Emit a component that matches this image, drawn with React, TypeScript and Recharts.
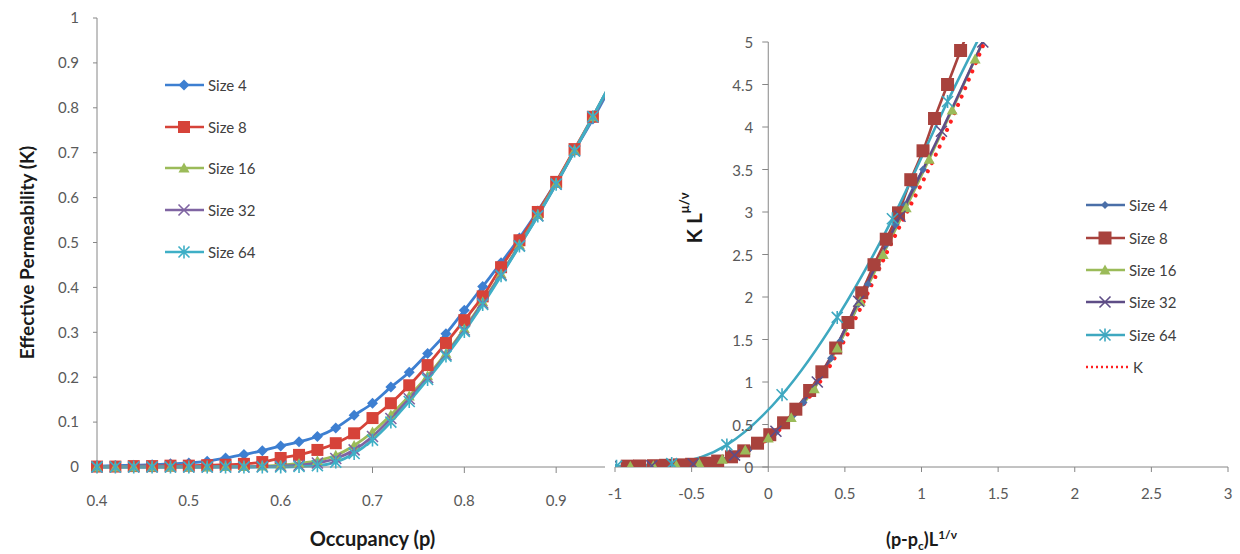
import React from "react";
import { LineChart, Line, XAxis, YAxis, Legend, ReferenceLine, ReferenceDot, Label } from "recharts";

// ---- left chart: effective permeability vs occupancy ----
const occupancy = [
  0.4, 0.42, 0.44, 0.46, 0.48, 0.5, 0.52, 0.54, 0.56, 0.58, 0.6, 0.62, 0.64, 0.66, 0.68,
  0.7, 0.72, 0.74, 0.76, 0.78, 0.8, 0.82, 0.84, 0.86, 0.88, 0.9, 0.92, 0.94, 0.96,
];
const permSize4 = [
  0.002, 0.003, 0.004, 0.005, 0.007, 0.009, 0.013, 0.02, 0.028, 0.036, 0.047, 0.056, 0.068, 0.087, 0.115,
  0.142, 0.178, 0.211, 0.253, 0.297, 0.349, 0.402, 0.455, 0.51, 0.57, 0.635, 0.705, 0.775, 0.85,
];
const permSize8 = [
  0.001, 0.001, 0.002, 0.002, 0.003, 0.003, 0.004, 0.005, 0.007, 0.011, 0.02, 0.027, 0.038, 0.053, 0.075,
  0.109, 0.142, 0.182, 0.227, 0.276, 0.327, 0.38, 0.445, 0.505, 0.568, 0.635, 0.708, 0.78, 0.855,
];
const permSize16 = [
  0, 0, 0, 0, 0, 0, 0, 0.001, 0.001, 0.002, 0.004, 0.008, 0.014, 0.026, 0.048,
  0.078, 0.116, 0.158, 0.203, 0.253, 0.308, 0.368, 0.43, 0.495, 0.562, 0.632, 0.705, 0.78, 0.856,
];
const permSize32 = [
  0, 0, 0, 0, 0, 0, 0, 0, 0, 0.001, 0.002, 0.004, 0.009, 0.019, 0.038,
  0.068, 0.108, 0.152, 0.199, 0.25, 0.305, 0.365, 0.428, 0.493, 0.56, 0.63, 0.704, 0.78, 0.856,
];
const permSize64 = [
  0, 0, 0, 0, 0, 0, 0, 0, 0, 0, 0, 0.001, 0.003, 0.011, 0.03,
  0.06, 0.1, 0.146, 0.195, 0.247, 0.302, 0.362, 0.426, 0.492, 0.559, 0.63, 0.704, 0.78, 0.857,
];
const occupancyTicks = [0.4, 0.5, 0.6, 0.7, 0.8, 0.9, 1];
const permTicks = [0, 0.1, 0.2, 0.3, 0.4, 0.5, 0.6, 0.7, 0.8, 0.9, 1];

// ---- right chart: scaling collapse ----
const scaledX4 = [
  -0.55, -0.49, -0.43, -0.37, -0.31, -0.25, -0.19, -0.13, -0.07, -0.01, 0.05, 0.11, 0.17, 0.23,
  0.29, 0.35, 0.41, 0.47, 0.53, 0.59, 0.65, 0.71, 0.77, 0.83, 0.89, 0.95, 1.01,
];
const scaledY4 = [
  0.03, 0.04, 0.05, 0.06, 0.08, 0.11, 0.15, 0.2, 0.26, 0.33, 0.41, 0.51, 0.62, 0.76,
  0.92, 1.09, 1.28, 1.48, 1.69, 1.92, 2.15, 2.38, 2.62, 2.85, 3.08, 3.3, 3.5,
];
const scaledX8 = [
  -0.92, -0.84, -0.75, -0.67, -0.58, -0.5, -0.41, -0.33, -0.24, -0.16, -0.07, 0.01, 0.1, 0.18,
  0.27, 0.35, 0.44, 0.52, 0.61, 0.69, 0.77, 0.85, 0.93, 1.01, 1.085, 1.17, 1.255, 1.34,
];
const scaledY8 = [
  0.01, 0.012, 0.015, 0.02, 0.025, 0.032, 0.045, 0.07, 0.12, 0.19, 0.28, 0.38, 0.52, 0.68,
  0.9, 1.12, 1.4, 1.7, 2.05, 2.38, 2.68, 2.99, 3.38, 3.72, 4.1, 4.5, 4.9, 5.3,
];
const scaledX16 = [-1.2, -1.05, -0.9, -0.75, -0.6, -0.45, -0.3, -0.15, 0, 0.15, 0.3, 0.45, 0.6, 0.75, 0.9, 1.05, 1.2, 1.35, 1.5];
const scaledY16 = [0, 0.005, 0.01, 0.015, 0.02, 0.04, 0.09, 0.2, 0.34, 0.58, 0.92, 1.4, 1.95, 2.5, 3.05, 3.62, 4.2, 4.8, 5.4];
const scaledX32 = [-1.3, -1.03, -0.76, -0.49, -0.22, 0.05, 0.32, 0.59, 0.86, 1.13, 1.4];
const scaledY32 = [0, 0.005, 0.015, 0.035, 0.14, 0.42, 1.0, 1.95, 2.95, 3.95, 5.0];
const scaledX64 = [-1.35, -0.99, -0.63, -0.27, 0.09, 0.45, 0.81, 1.17, 1.53];
const scaledY64 = [0, 0.01, 0.04, 0.26, 0.85, 1.76, 2.92, 4.3, 5.6];
const fitX = [-1, -0.9, -0.8, -0.7, -0.6, -0.5, -0.4, -0.3, -0.2, -0.1, 0, 0.1, 0.2, 0.3, 0.4, 0.5, 0.6, 0.7, 0.8, 0.9, 1, 1.1, 1.2, 1.3, 1.4, 1.5];
const fitY = [
  0.005, 0.008, 0.012, 0.016, 0.02, 0.026, 0.04, 0.07, 0.13, 0.22, 0.33, 0.48, 0.67, 0.9, 1.18, 1.5,
  1.86, 2.24, 2.62, 2.98, 3.33, 3.7, 4.1, 4.52, 4.95, 5.4,
];
const scaledTicksX = [-1, -0.5, 0, 0.5, 1, 1.5, 2, 2.5, 3];
const scaledTicksY = [0, 0.5, 1, 1.5, 2, 2.5, 3, 3.5, 4, 4.5, 5];

const FONT = "Lato, 'Open Sans', sans-serif";
const AXIS = "#868686";
const TICK = "#595959";

const leftRows = occupancy.map((p, i) => ({
  p,
  s4: permSize4[i],
  s8: permSize8[i],
  s16: permSize16[i],
  s32: permSize32[i],
  s64: permSize64[i],
}));
const pts = (xs: number[], ys: number[]) => xs.map((x, i) => ({ x, y: ys[i] }));

type Shape = "diamond" | "square" | "triangle" | "x" | "star";

function Marker({ cx, cy, shape, color, size }: { cx?: number; cy?: number; shape: Shape; color: string; size: number }) {
  if (cx == null || cy == null || isNaN(cx) || isNaN(cy)) return null;
  const h = size / 2;
  if (shape === "diamond")
    return <polygon points={`${cx},${cy - h} ${cx + h},${cy} ${cx},${cy + h} ${cx - h},${cy}`} fill={color} />;
  if (shape === "square") return <rect x={cx - h} y={cy - h} width={size} height={size} fill={color} />;
  if (shape === "triangle")
    return <polygon points={`${cx},${cy - h} ${cx + h},${cy + h * 0.8} ${cx - h},${cy + h * 0.8}`} fill={color} />;
  if (shape === "x")
    return (
      <path d={`M${cx - h},${cy - h}L${cx + h},${cy + h}M${cx - h},${cy + h}L${cx + h},${cy - h}`} stroke={color} strokeWidth={1.6} fill="none" />
    );
  return (
    <path
      d={`M${cx - h},${cy - h}L${cx + h},${cy + h}M${cx - h},${cy + h}L${cx + h},${cy - h}M${cx},${cy - h - 1}L${cx},${cy + h + 1}`}
      stroke={color}
      strokeWidth={1.6}
      fill="none"
    />
  );
}

const dotOf = (name: string, shape: Shape, color: string, size: number) => (p: any) =>
  <Marker key={`${name}-${p.index}`} cx={p.cx} cy={p.cy} shape={shape} color={color} size={size} />;

type Item = { name: string; color: string; shape?: Shape; size?: number; dotted?: boolean };

function SeriesLegend({ items, rowHeight }: { items: Item[]; rowHeight: number }) {
  return (
    <div style={{ fontFamily: FONT }}>
      {items.map((it) => (
        <div key={it.name} style={{ display: "flex", alignItems: "center", height: rowHeight }}>
          <svg width={46} height={16}>
            <line
              x1={1}
              x2={it.dotted ? 44 : 40}
              y1={8}
              y2={8}
              stroke={it.color}
              strokeWidth={2.5}
              strokeDasharray={it.dotted ? "2 3" : undefined}
            />
            {it.shape && <Marker cx={it.dotted ? 22 : 20} cy={8} shape={it.shape} color={it.color} size={it.size || 9} />}
          </svg>
          <span style={{ fontSize: 15, color: "#404040", marginLeft: it.dotted ? 2 : -2 }}>{it.name}</span>
        </div>
      ))}
    </div>
  );
}

const leftItems: Item[] = [
  { name: "Size 4", color: "#3D7FD1", shape: "diamond", size: 11 },
  { name: "Size 8", color: "#D64339", shape: "square", size: 12 },
  { name: "Size 16", color: "#9BBB59", shape: "triangle", size: 11 },
  { name: "Size 32", color: "#7F64A2", shape: "x", size: 11 },
  { name: "Size 64", color: "#3FAFC6", shape: "star", size: 11 },
];
const rightItems: Item[] = [
  { name: "Size 4", color: "#4A6FA8", shape: "diamond", size: 8 },
  { name: "Size 8", color: "#A8423D", shape: "square", size: 13 },
  { name: "Size 16", color: "#9BBB59", shape: "triangle", size: 11 },
  { name: "Size 32", color: "#5E4D86", shape: "x", size: 11 },
  { name: "Size 64", color: "#3EA8C0", shape: "star", size: 11 },
  { name: "K", color: "#FF2020", dotted: true },
];

// y ticks of the right chart sit on the vertical axis at x = 0 (Excel style)
const zeroAxisTick = (value: number) => (p: any) => {
  if (p.cx == null || p.cy == null) return <g />;
  return (
    <g>
      <line x1={p.cx - 6} x2={p.cx} y1={p.cy} y2={p.cy} stroke={AXIS} />
      <text x={p.cx - 15} y={p.cy} textAnchor="end" dominantBaseline="central" fill={TICK} fontSize={15} fontFamily={FONT}>
        {value}
      </text>
    </g>
  );
};

function PermeabilityChart() {
  return (
    <LineChart width={660} height={554} data={leftRows} margin={{ top: 18, right: 12, bottom: 0, left: 0 }}>
      <XAxis
        type="number"
        dataKey="p"
        domain={[0.4, 1]}
        ticks={occupancyTicks}
        interval={0}
        height={87}
        axisLine={{ stroke: AXIS }}
        tickLine={{ stroke: AXIS }}
        tickSize={6}
        tickMargin={22}
        tick={{ fill: TICK, fontSize: 15, fontFamily: FONT }}
      >
        <Label
          content={(p: any) => (
            <text x={p.viewBox.x + p.viewBox.width / 2} y={546} textAnchor="middle" fontSize={20} fontWeight="bold" fill="#1a1a1a" fontFamily={FONT}>
              Occupancy (p)
            </text>
          )}
        />
      </XAxis>
      <YAxis
        type="number"
        domain={[0, 1]}
        ticks={permTicks}
        interval={0}
        width={97}
        axisLine={{ stroke: AXIS }}
        tickLine={{ stroke: AXIS }}
        tickSize={4}
        tickMargin={14}
        tick={{ fill: TICK, fontSize: 15, fontFamily: FONT }}
      >
        <Label
          content={(p: any) => {
            const cy = p.viewBox.y + p.viewBox.height / 2 + 10;
            return (
              <text x={26} y={cy} transform={`rotate(-90 26 ${cy})`} textAnchor="middle" dominantBaseline="central" fontSize={19} fontWeight="bold" fill="#1a1a1a" fontFamily={FONT}>
                Effective Permeability (K)
              </text>
            );
          }}
        />
      </YAxis>
      <Legend
        layout="vertical"
        align="center"
        verticalAlign="middle"
        wrapperStyle={{ left: 164, top: 64, bottom: "auto", width: 130 }}
        content={() => <SeriesLegend items={leftItems} rowHeight={41.7} />}
      />
      {leftItems.map((it, i) => (
        <Line
          key={it.name}
          dataKey={["s4", "s8", "s16", "s32", "s64"][i]}
          name={it.name}
          type="monotone"
          stroke={it.color}
          strokeWidth={2.8}
          dot={dotOf(`l${i}`, it.shape as Shape, it.color, it.size || 10)}
          isAnimationActive={false}
        />
      ))}
    </LineChart>
  );
}

function CollapseChart() {
  const series = [
    pts(scaledX4, scaledY4),
    pts(scaledX8, scaledY8),
    pts(scaledX16, scaledY16),
    pts(scaledX32, scaledY32),
    pts(scaledX64, scaledY64),
  ];
  return (
    <LineChart width={635} height={554} margin={{ top: 42, right: 12, bottom: 0, left: 10 }}>
      <XAxis
        type="number"
        dataKey="x"
        domain={[-1, 3]}
        ticks={scaledTicksX}
        interval={0}
        allowDataOverflow
        height={87}
        axisLine={{ stroke: AXIS }}
        tickLine={{ stroke: AXIS }}
        tickSize={5}
        tickMargin={16}
        tick={{ fill: TICK, fontSize: 15, fontFamily: FONT }}
      >
        <Label
          content={(p: any) => (
            <text x={p.viewBox.x + p.viewBox.width / 2} y={546} textAnchor="middle" fontSize={18} fontWeight="bold" fill="#1a1a1a" fontFamily={FONT}>
              (p-p<tspan dy={4} fontSize={12}>c</tspan>
              <tspan dy={-4}>)L</tspan>
              <tspan dy={-7} fontSize={12}>1/ν</tspan>
            </text>
          )}
        />
      </XAxis>
      <YAxis type="number" domain={[0, 5]} ticks={scaledTicksY} allowDataOverflow hide />
      <ReferenceLine x={0} stroke={AXIS} ifOverflow="visible" />
      {scaledTicksY.map((t) => (
        <ReferenceDot key={`yt-${t}`} x={0} y={t} r={0} ifOverflow="visible" shape={zeroAxisTick(t)} />
      ))}
      <text x={88} y={218} transform="rotate(-90 88 218)" textAnchor="middle" dominantBaseline="central" fontSize={21} fontWeight="bold" fill="#1a1a1a" fontFamily={FONT}>
        K L<tspan dy={-9} fontSize={13}>μ/ν</tspan>
      </text>
      <Legend
        layout="vertical"
        align="center"
        verticalAlign="middle"
        wrapperStyle={{ left: 480, top: 189, bottom: "auto", width: 150 }}
        content={() => <SeriesLegend items={rightItems} rowHeight={32.4} />}
      />
      {series.map((data, i) => {
        const it = rightItems[i];
        return (
          <Line
            key={it.name}
            data={data}
            dataKey="y"
            name={it.name}
            type="monotone"
            stroke={it.color}
            strokeWidth={2.6}
            dot={dotOf(`r${i}`, it.shape as Shape, it.color, it.size || 10)}
            isAnimationActive={false}
          />
        );
      })}
      <Line
        data={pts(fitX, fitY)}
        dataKey="y"
        name="K"
        type="monotone"
        stroke="#FF2020"
        strokeWidth={4}
        strokeLinecap="round"
        strokeDasharray="0.1 9"
        dot={false}
        isAnimationActive={false}
      />
    </LineChart>
  );
}

export default function App() {
  return (
    <div style={{ position: "absolute", left: 0, top: 0, width: 1240, height: 554, background: "#fff", fontFamily: FONT, overflow: "hidden" }}>
      <div style={{ position: "absolute", left: 0, top: 0 }}>
        <PermeabilityChart />
      </div>
      <div style={{ position: "absolute", left: 605, top: 0, background: "#fff" }}>
        <CollapseChart />
      </div>
    </div>
  );
}
